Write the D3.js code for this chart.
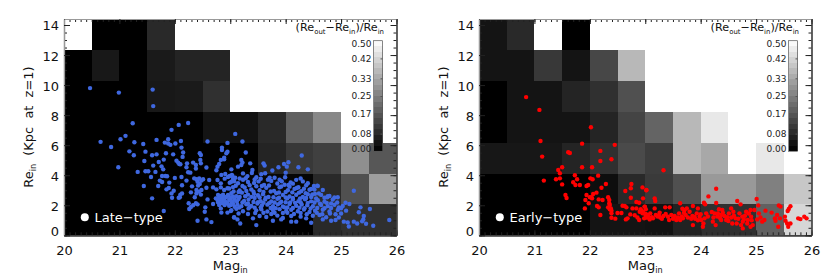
<!DOCTYPE html>
<html>
<head>
<meta charset="utf-8">
<script src="https://cdn.jsdelivr.net/npm/d3@7"></script>
<style>
body { margin: 0; background: #fff; }
text { font-family: "DejaVu Sans", sans-serif; fill: #111; }
</style>
</head>
<body>
<script>
// grid of mean size change, index 0 is the bottom row, null = empty bin
var lateGrid = [
  [0,0,0,0,0,0,0,0,0,.08,.094,.094],
  [0,0,0,0,0,0,.008,.015,.012,.08,.157,.31],
  [0,0,0,0,0,0,0,.07,.11,.125,.28,.17],
  [0,0,0,0,0,.04,.035,.08,.19,.267,null,null],
  [0,0,0,.047,.05,.094,null,null,null,null,null,null],
  [0,.047,0,.05,.07,.07,null,null,null,null,null,null],
  [null,0,0,.08,null,null,null,null,null,null,null,null]
];
var earlyGrid = [
  [0,0,0,0,.04,.04,.035,.067,.094,.094,.19,.42],
  [0,0,0,0,.027,.08,.114,.157,.30,.30,.25,.39],
  [.045,.045,.045,.07,.094,.145,.12,.36,.33,null,.455,null],
  [0,.04,.04,.04,.07,.133,.196,.36,.455,null,null,null],
  [0,.04,.04,.07,.094,.157,null,null,null,null,null,null],
  [.04,.04,.11,.04,.14,.36,null,null,null,null,null,null],
  [.04,.08,null,0,null,null,null,null,null,null,null,null]
];

// [Mag_in, Re_in]
var latePoints = [
  [20.47,9.8],[20.99,9.5],[21.6,9.7],[21.61,8.6],[21.24,7.46],[20.66,6.22],[20.85,5.88],[21.02,6.39],[21.11,6.62],[21.27,6.19],
  [21.43,6.08],[21.67,6.35],[21.94,7.02],[22.07,7.35],[22.24,7.48],[21.18,5.59],[21.26,5.33],[21.47,5.57],[21.59,5.33],[21.67,5.39],
  [21.82,6.17],[21.88,6.39],[21.88,6.11],[21.92,6.02],[22.01,6.11],[22.11,6.28],[22.12,5.84],[22.15,5.51],[22.14,5.22],[21.84,5.46],
  [21.97,5.39],[21.8,5.04],[21.71,4.88],[21.45,4.95],[21.61,4.64],[21.76,4.59],[21.79,4.39],[20.98,4.53],[21.33,4.22],[21.47,4.26],
  [21.52,4.26],[21.65,4.22],[21.57,3.88],[21.77,3.95],[21.83,3.95],[21.86,3.93],[21.73,3.64],[21.77,3.55],[22.0,3.82],[22.12,3.88],
  [21.9,3.51],[22.21,3.64],[21.44,3.28],[21.7,3.28],[22.13,3.33],[22.31,3.26],[21.85,3.06],[21.89,3.15],[21.98,2.97],[21.94,2.79],
  [22.13,2.79],[22.1,2.71],[21.95,2.5],[22.07,2.5],[22.09,2.53],[21.59,2.46],[21.8,1.62],[22.03,4.97],[22.06,4.84],[22.1,4.73],
  [22.08,4.75],[22.22,4.79],[22.21,4.53],[22.33,4.84],[22.38,4.68],[22.38,4.44],[22.45,5.46],[22.47,5.35],[22.46,5.02],[22.47,4.79],
  [22.59,6.24],[22.57,4.51],[22.24,4.2],[22.28,4.17],[22.35,3.79],[22.39,3.73],[22.44,3.79],[22.48,3.64],[22.51,3.73],[22.41,3.57],
  [22.45,3.42],[22.42,3.31],[22.62,3.68],[22.57,3.17],[22.29,2.86],[22.39,3.02],[22.44,2.91],[22.48,3.02],[22.39,2.79],[22.36,2.53],
  [22.47,2.71],[22.59,2.39],[22.25,2.13],[22.33,2.0],[22.29,1.88],[22.26,1.75],[22.38,2.13],[22.41,2.06],[22.55,1.86],[22.54,1.57],
  [22.41,0.97],[22.57,1.06],[22.66,0.88],[22.95,6.15],[22.85,5.84],[22.85,5.68],[22.95,5.57],[22.93,5.46],[22.89,5.17],[22.83,5.02],
  [22.89,5.06],[22.8,4.75],[22.77,4.57],[22.75,4.33],[23.02,4.39],[22.84,4.02],[22.91,4.08],[22.9,3.77],[22.99,3.95],[23.04,3.95],
  [22.77,3.68],[22.83,3.46],[23.02,3.57],[22.69,3.19],[22.75,3.06],[22.83,3.19],[22.89,3.02],[22.95,3.13],[22.78,2.68],[22.83,2.62],
  [22.74,2.46],[22.77,2.35],[22.83,2.39],[22.89,2.53],[22.96,2.68],[23.01,2.53],[22.86,2.13],[22.9,2.02],[22.95,2.13],[22.8,2.02],
  [22.83,1.79],[23.01,2.02],[23.04,2.24],[22.69,2.08],[22.84,1.51],[22.95,1.51],[23.01,1.62],[23.07,1.2],[22.8,2.5],[22.85,2.45],
  [22.9,2.3],[22.82,2.25],[22.87,2.3],[22.92,2.2],[22.78,2.2],[22.87,2.7],[22.98,2.35],[22.93,2.55],
  [23.09,6.75],[23.22,6.24],[23.28,5.51],[23.2,5.02],[23.22,4.84],[23.14,4.57],[23.2,4.68],[23.36,4.79],[23.4,4.35],[23.6,4.79],
  [23.62,4.64],[23.76,4.31],[23.87,4.53],[23.97,4.75],[24.05,4.86],[24.02,4.57],[24.0,4.17],[24.29,5.31],[24.23,4.53],[24.4,4.39],
  [25.23,2.97],[24.67,3.02],[24.51,3.28],[24.58,3.28],[24.79,2.62],[24.94,2.53],[24.75,2.53],[25.08,2.17],[25.15,2.08],[25.09,1.64],
  [25.35,1.86],[25.52,1.75],[25.32,1.53],[25.41,1.28],[25.4,1.06],[25.38,0.93],[25.05,0.91],[25.12,0.86],[25.23,0.91],[25.29,0.79],
  [25.14,0.59],[25.45,0.77],[25.58,0.64],[25.87,1.02],
  [22.96,3.88],[23.03,4.01],[23.09,3.83],[23.23,4.12],[23.31,3.94],[23.39,4.15],[23.47,3.86],[23.56,4.07],[23.63,4.13],[23.71,3.84],
  [23.8,3.83],[23.89,3.7],[23.99,3.86],[24.09,3.52],[24.19,3.69],[24.27,3.78],[24.31,3.59],[24.4,3.47],[24.57,3.3],
  [22.99,3.5],[23.07,3.6],[23.14,3.47],[23.23,3.7],[23.32,3.55],[23.43,3.49],[23.51,3.59],[23.61,3.36],[23.74,3.62],[23.85,3.45],
  [23.98,3.37],[24.13,3.44],[24.23,3.2],[24.37,3.33],[24.46,3.08],
  [22.98,3.12],[23.05,3.21],[23.17,2.99],[23.26,3.18],[23.38,3.05],[23.47,3.27],[23.53,3.0],[23.65,3.16],[23.79,2.96],[23.89,3.2],
  [24.04,3.0],[24.16,3.09],[24.28,2.93],[24.43,3.03],[24.53,2.76],
  [22.96,2.63],[23.02,2.81],[23.11,2.6],[23.21,2.84],[23.32,2.71],[23.43,2.76],[23.5,2.67],[23.59,2.74],[23.69,2.55],[23.83,2.8],
  [23.95,2.69],[24.07,2.58],[24.19,2.7],[24.31,2.55],[24.4,2.73],[24.55,2.46],[24.64,2.69],[24.76,2.6],
  [23.01,2.44],[23.08,2.37],[23.15,2.42],[23.25,2.28],[23.33,2.38],[23.44,2.49],[23.55,2.27],[23.63,2.39],[23.74,2.25],[23.85,2.43],
  [23.92,2.24],[24.03,2.46],[24.13,2.38],[24.23,2.27],[24.35,2.4],[24.46,2.26],[24.58,2.33],[24.7,2.24],[24.85,2.38],
  [22.98,1.96],[23.05,2.1],[23.13,2.04],[23.2,1.93],[23.29,2.07],[23.38,1.95],[23.49,2.11],[23.57,1.98],[23.67,2.04],[23.77,1.94],
  [23.86,2.06],[23.95,1.92],[24.07,2.08],[24.19,1.97],[24.29,2.05],[24.39,2.0],[24.49,1.93],[24.64,2.02],[24.76,1.94],[24.88,2.03],[25.03,1.95],
  [23.02,1.67],[23.11,1.76],[23.23,1.6],[23.33,1.79],[23.47,1.66],[23.56,1.73],[23.67,1.58],[23.77,1.68],[23.89,1.74],[24.01,1.62],
  [24.1,1.7],[24.22,1.6],[24.33,1.72],[24.43,1.55],[24.53,1.64],[24.67,1.7],[24.79,1.59],[24.94,1.69],
  [23.07,1.19],[23.13,1.06],[23.18,0.79],[23.41,1.13],[23.47,0.68],[23.32,1.42],[23.53,1.28],[23.65,1.22],[23.74,1.42],[23.85,1.31],
  [23.95,1.15],[24.1,1.28],[24.19,0.91],[24.27,1.24],[24.37,1.13],[24.49,1.3],[24.61,1.35],[24.73,1.2],[24.82,0.97],[24.96,1.19],
  [24.9,1.02],[24.67,1.06],[24.46,0.84],[24.1,0.91],[23.92,1.06],[23.77,0.97],
  [23.05,3.75],[23.17,3.78],[23.28,3.8],[23.44,3.72],[23.55,3.76],[23.68,3.7],[23.93,3.6],[24.05,3.35],
  [23.1,3.3],[23.22,3.28],[23.35,3.34],[23.57,3.28],[23.7,3.32],[23.92,3.25],[24.07,3.24],[24.2,3.15],[24.33,3.1],[24.52,3.05],
  [23.06,2.92],[23.15,2.88],[23.29,2.95],[23.42,2.9],[23.6,2.88],[23.73,2.92],[23.88,2.85],[24.0,2.88],[24.12,2.86],[24.24,2.84],[24.36,2.8],[24.48,2.72],[24.6,2.78],
  [23.05,2.58],[23.17,2.55],[23.27,2.6],[23.38,2.56],[23.53,2.52],[23.64,2.5],[23.78,2.53],[23.88,2.5],[24.0,2.52],[24.13,2.48],[24.26,2.46],[24.37,2.48],[24.46,2.55],[24.7,2.5],[24.88,2.52],
  [23.03,2.2],[23.12,2.25],[23.22,2.18],[23.32,2.12],[23.42,2.22],[23.5,2.2],[23.6,2.16],[23.7,2.14],[23.8,2.18],[23.9,2.16],[24.0,2.2],[24.08,2.18],[24.17,2.16],[24.27,2.2],[24.4,2.16],[24.52,2.18],[24.62,2.1],[24.74,2.16],[24.82,2.12],[24.93,2.18],
  [23.08,1.9],[23.16,1.85],[23.35,1.88],[23.44,1.84],[23.55,1.86],[23.73,1.82],[23.82,1.8],[23.98,1.86],[24.03,1.85],[24.13,1.82],[24.25,1.84],[24.34,1.8],[24.45,1.78],[24.57,1.82],[24.7,1.8],[24.82,1.82],[24.96,1.86],[25.0,1.8],
  [23.15,1.45],[23.45,1.48],[23.6,1.5],[23.8,1.5],[23.95,1.48],[24.03,1.5],[24.15,1.42],[24.27,1.48],[24.38,1.4],[24.56,1.5],[24.66,1.4],[24.8,1.45],[24.9,1.4],[25.0,1.45]
];

var earlyPoints = [
  [20.85,9.2],[21.09,8.35],[22.02,7.19],[21.11,6.28],[21.86,6.1],[22.45,6.02],[21.14,5.24],[21.61,5.53],[21.64,5.48],[22.19,5.62],
  [22.19,4.95],[22.39,5.06],[21.5,4.53],[21.86,4.53],[22.04,4.53],[21.43,4.35],[21.46,4.13],[21.17,3.64],[21.39,3.73],[21.46,3.79],
  [21.5,3.39],[21.73,4.0],[21.77,3.73],[21.7,3.53],[21.74,3.35],[21.82,3.35],[22.01,3.79],[22.05,3.73],[22.15,3.97],[21.94,3.28],
  [21.97,3.35],[22.29,3.42],[22.21,3.17],[22.12,2.84],[22.06,2.75],[22.03,2.53],[21.94,2.68],[22.0,2.53],[21.92,2.35],[22.04,2.46],
  [21.98,2.13],[21.91,1.79],[21.56,2.68],[21.58,2.48],[22.13,1.95],[22.16,1.86],[22.16,2.39],[22.23,2.35],[22.19,1.35],[22.33,2.53],
  [22.35,2.35],[22.35,2.13],[22.33,1.86],[22.36,1.73],[22.36,2.02],[22.39,1.64],[22.39,1.46],[22.38,1.79],[22.39,1.17],[22.46,1.11],
  [22.5,1.48],[22.57,1.48],[22.68,1.13],[22.64,2.95],[22.74,3.13],[22.75,3.42],[22.95,3.19],[23.02,3.0],[22.74,2.5],[22.84,2.22],
  [22.89,2.17],[22.96,2.46],[22.59,1.97],[22.63,1.95],[22.66,1.86],[22.77,1.79],[22.84,1.79],[22.92,1.73],[22.99,1.91],[23.01,1.73],
  [22.73,1.39],[22.81,1.33],[22.9,1.57],[22.95,1.46],[23.01,1.42],[23.04,1.35],[22.65,1.06],[22.89,1.02],[22.98,1.13],[23.04,1.19],[22.86,1.19],
  [23.33,4.33],[23.02,3.02],[23.17,2.46],[23.18,2.28],[24.28,3.1],[24.14,2.59],[24.28,2.15],[24.06,2.17],[24.08,2.06],[24.66,2.28],
  [24.72,2.06],[25.01,2.42],[25.04,1.99],[25.41,1.99],[25.44,1.91],[25.62,1.93],[25.59,1.75],[25.57,1.62],[25.76,1.13],[25.8,1.08],
  [25.87,1.24],[25.91,1.13],[25.52,1.24],[25.53,0.97],[25.56,0.79],[25.62,0.79],[25.58,0.57],[25.17,1.64],[25.28,1.51],[25.34,1.13],
  [25.38,1.35],[25.4,0.57],[25.35,0.97],[25.43,1.13],[25.15,1.02],[25.08,1.19],[25.05,1.46],[25.02,1.06],[25.11,0.91],
  [22.99,1.91],[22.96,1.57],[23.05,1.28],[23.01,1.19],[23.09,1.46],[23.14,1.13],[23.08,1.06],[23.19,1.35],[23.25,1.35],[23.26,1.51],
  [23.27,1.19],[23.17,1.79],[23.36,1.86],[23.44,1.86],[23.37,1.42],[23.41,1.24],[23.33,1.28],[23.43,1.02],[23.47,1.35],[23.53,1.28],
  [23.56,1.02],[23.61,1.46],[23.59,1.19],[23.63,2.13],[23.67,1.77],[23.71,1.68],[23.75,1.79],[23.73,1.35],[23.68,1.13],[23.63,1.02],
  [23.8,1.57],[23.77,1.19],[23.86,1.95],[23.95,1.79],[23.93,1.46],[23.85,1.28],[23.89,1.24],[23.86,0.68],[23.98,1.24],[24.01,1.02],
  [24.05,0.79],[24.04,0.57],[24.1,1.46],[24.07,1.13],[24.25,1.46],[24.31,1.46],[24.23,1.19],[24.22,0.91],[24.27,0.68],[24.33,1.73],
  [24.39,1.68],[24.37,1.35],[24.43,1.28],[24.37,1.02],[24.46,1.02],[24.51,1.46],[24.55,1.79],[24.59,1.57],[24.55,1.19],[24.63,1.13],
  [24.57,0.79],[24.65,0.79],[24.7,1.46],[24.75,1.24],[24.76,0.91],[24.76,0.46],[24.73,0.68],[24.82,1.57],[24.9,1.68],[24.91,1.24],
  [24.97,1.68],[24.85,1.02],[24.9,0.57],[24.94,0.68],[24.84,0.79],
  [23.0,1.4],[23.12,1.2],[23.22,1.25],[23.3,1.1],[23.5,1.1],[23.66,1.25],[23.7,1.5],[23.83,1.1],[23.9,1.1],[24.0,1.4],[24.13,1.25],
  [24.2,1.55],[24.3,1.25],[24.4,1.5],[24.48,1.2],[24.6,1.3],[24.68,1.1],[24.8,1.3],[24.87,1.45],[24.92,1.0],[24.78,1.05],[24.35,1.15],[23.95,1.0],[24.5,0.95]
];

var colorbarTicks = [0, .08, .17, .25, .33, .42, .5];
var magTicks = [20, 21, 22, 23, 24, 25, 26];
var reTicks = [0, 2, 4, 6, 8, 10, 12, 14];

var width = 830, height = 276;
var plotLeft = 64, plotWidth = 332.5, plotTop = 19, plotBottom = 235.3;
var magMax = 26, magMin = 20, reMax = 14.4;
var binMag = 0.5, binRe = reMax / 7;

var x = d3.scaleLinear().domain([magMin, magMax]).range([0, plotWidth]);
var y = d3.scaleLinear().domain([0, reMax]).range([plotBottom, plotTop]);
var grey = d3.scaleLinear().domain([0, .5]).range(["#000", "#fff"]);
var barY = d3.scaleLinear().domain([0, .5]).range([151.3, 40.7]);

var svg = d3.select("body").append("svg").attr("width", width).attr("height", height);

function inRange(step, lo, hi) {
  return d3.range(Math.round((hi - lo) / step) + 1).map(function(i) { return lo + i * step; });
}

function drawAxes(g) {
  var minorX = inRange(.1, magMin, magMax), minorY = inRange(.5, 0, 14);

  var styleAxis = function(a) {
    a.select(".domain").attr("stroke", "#444").attr("stroke-width", 1.2);
    a.selectAll("line").attr("stroke", "#222").attr("stroke-width", 1);
  };

  g.append("g").attr("transform", "translate(0," + plotBottom + ")")
    .call(d3.axisBottom(x).tickValues(minorX).tickSizeInner(-3).tickSizeOuter(0).tickFormat("")).call(styleAxis);
  g.append("g").attr("transform", "translate(0," + plotTop + ")")
    .call(d3.axisTop(x).tickValues(minorX).tickSizeInner(-3).tickSizeOuter(0).tickFormat("")).call(styleAxis);
  g.append("g")
    .call(d3.axisLeft(y).tickValues(minorY).tickSizeInner(-3).tickSizeOuter(0).tickFormat("")).call(styleAxis);
  g.append("g").attr("transform", "translate(" + plotWidth + ",0)")
    .call(d3.axisRight(y).tickValues(minorY).tickSizeInner(-3).tickSizeOuter(0).tickFormat("")).call(styleAxis);

  // major ticks, labels on bottom and left only
  var bottom = g.append("g").attr("transform", "translate(0," + plotBottom + ")")
    .call(d3.axisBottom(x).tickValues(magTicks).tickSizeInner(-5).tickSizeOuter(0).tickPadding(10).tickFormat(d3.format("d")))
    .call(styleAxis);
  var top = g.append("g").attr("transform", "translate(0," + plotTop + ")")
    .call(d3.axisTop(x).tickValues(magTicks).tickSizeInner(-5).tickSizeOuter(0).tickFormat("")).call(styleAxis);
  var left = g.append("g")
    .call(d3.axisLeft(y).tickValues(reTicks).tickSizeInner(-6).tickSizeOuter(0).tickPadding(5).tickFormat(d3.format("d")))
    .call(styleAxis);
  g.append("g").attr("transform", "translate(" + plotWidth + ",0)")
    .call(d3.axisRight(y).tickValues(reTicks).tickSizeInner(-6).tickSizeOuter(0).tickFormat("")).call(styleAxis);

  bottom.selectAll("text").attr("font-size", 13).attr("font-family", null).style("fill", "#111");
  left.selectAll("text").attr("font-size", 13).attr("font-family", null).style("fill", "#111")
    .attr("dy", function(d) { return d == 0 ? "0.05em" : "0.38em"; });
  bottom.select(".domain").attr("stroke", "#333");
  left.select(".domain").attr("stroke", "#999");
  top.select(".domain").attr("stroke", "#999");
}

function drawColorbar(g) {
  var steps = d3.range(20).map(function(i) { return i / 20 * .5; });
  g.selectAll(".band").data(steps).enter().append("rect").attr("class", "band")
    .attr("x", 309.5).attr("width", 9)
    .attr("y", function(d) { return barY(d + .025); })
    .attr("height", function(d) { return barY(d) - barY(d + .025); })
    .attr("shape-rendering", "crispEdges")
    .attr("fill", function(d) { return grey(d + .0125); });
  g.append("rect").attr("x", 309.5).attr("width", 9).attr("y", barY(.5)).attr("height", barY(0) - barY(.5))
    .attr("fill", "none").attr("stroke", "#555").attr("stroke-width", .7);

  var bar = g.append("g").attr("transform", "translate(309.5,0)")
    .call(d3.axisLeft(barY).tickValues(colorbarTicks).tickSizeInner(0).tickSizeOuter(0).tickPadding(2).tickFormat(d3.format(".2f")));
  bar.select(".domain").remove();
  bar.selectAll("text").attr("font-size", 9).attr("font-family", null).style("fill", "#222")
    .attr("dy", function(d) { return d == .5 ? "0.62em" : d == 0 ? "0.02em" : "0.32em"; });

  // little ticks on the bar sides
  var right = g.append("g").attr("transform", "translate(318.5,0)")
    .call(d3.axisRight(barY).tickValues(colorbarTicks.slice(1, 6)).tickSizeInner(-2).tickSizeOuter(0).tickFormat(""));
  right.select(".domain").remove();
  right.selectAll("line").attr("stroke", "#555");
}

function subText(t, parts) {
  // parts: [string, isSubscript]
  parts.forEach(function(p, i) {
    var prevSub = i > 0 && parts[i - 1][1];
    var dy = p[1] ? 2.6 : (prevSub ? -2.6 : 0);
    t.append("tspan").attr("dy", dy).attr("font-size", p[1] ? "0.62em" : null).text(p[0]);
  });
}

function drawPanel(offset, grid, points, colour, label) {
  var g = svg.append("g").attr("transform", "translate(" + (plotLeft + offset) + ",0)");

  var cells = [];
  grid.forEach(function(row, r) {
    row.forEach(function(v, c) {
      if (v !== null) cells.push({ mag: magMin + c * binMag, re: r * binRe, v: v });
    });
  });

  g.selectAll(".cell").data(cells).enter().append("rect").attr("class", "cell")
    .attr("x", function(d) { return x(d.mag); })
    .attr("y", function(d) { return y(d.re + binRe); })
    .attr("width", function(d) { return x(d.mag + binMag) - x(d.mag); })
    .attr("height", function(d) { return y(d.re) - y(d.re + binRe); })
    .attr("shape-rendering", "crispEdges")
    .attr("fill", function(d) { return grey(d.v); });

  drawAxes(g);

  g.selectAll(".pt").data(points).enter().append("circle").attr("class", "pt")
    .attr("cx", function(d) { return x(d[0]); })
    .attr("cy", function(d) { return y(d[1]); })
    .attr("r", 2.2)
    .attr("fill", colour);

  drawColorbar(g);

  var head = g.append("text").attr("text-anchor", "end").attr("x", 320).attr("y", 31).attr("font-size", 11.2);
  subText(head, [["(Re", false], ["out", true], ["\u2212Re", false], ["in", true], [")/Re", false], ["in", true]]);

  // legend
  g.append("circle").attr("cx", x(20.375)).attr("cy", 217.3).attr("r", 4).attr("fill", "#fff");
  g.append("text").attr("x", 30.5).attr("y", 222).attr("font-size", 13).style("fill", "#fff").text(label);

  var xt = g.append("text").attr("x", x(23)).attr("y", 270).attr("text-anchor", "middle").attr("font-size", 13);
  subText(xt, [["Mag", false], ["in", true]]);

  var yt = g.append("text").attr("transform", "translate(-31,127) rotate(-90)").attr("text-anchor", "middle")
    .attr("font-size", 13).attr("word-spacing", 4);
  subText(yt, [["Re", false], ["in", true], [" (Kpc at z=1)", false]]);
}

drawPanel(0, lateGrid, latePoints, "#3f68e0", "Late\u2212type");
drawPanel(415, earlyGrid, earlyPoints, "#ff0000", "Early\u2212type");
</script>
</body>
</html>
